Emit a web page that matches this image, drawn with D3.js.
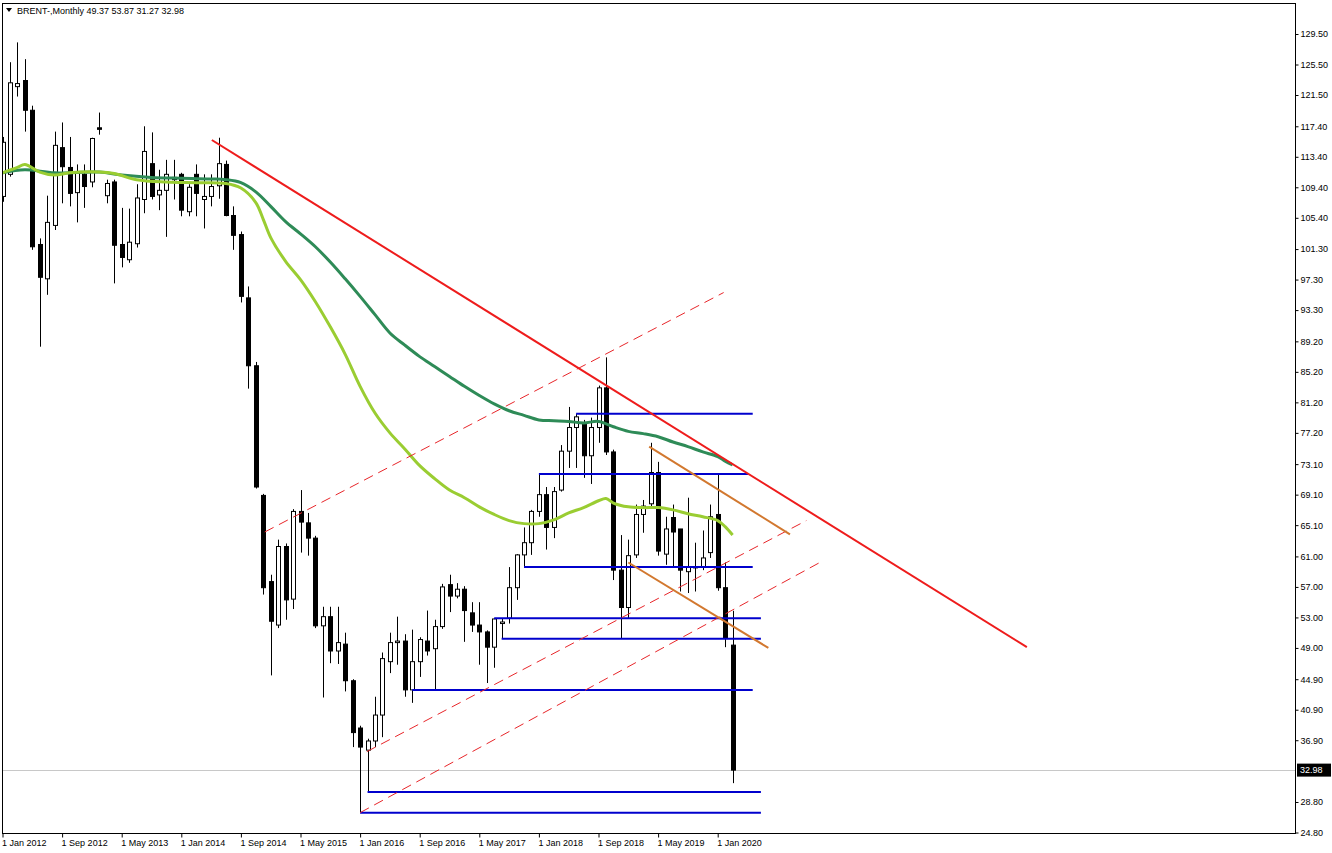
<!DOCTYPE html>
<html><head><meta charset="utf-8">
<script src="https://cdn.jsdelivr.net/npm/d3@7"></script>
<style>
body{margin:0;background:#fff;}
svg{display:block;}
text{font-family:"Liberation Sans",Arial,sans-serif;}
</style>
</head><body>
<svg id="chart" width="1332" height="853"></svg>
<script>
// ---------- DATA (monthly BRENT-, Jan 2012 .. Mar 2020) ----------
const symbolTitle = "BRENT-,Monthly";
const opens  = [108.2,111.1,122.6,123.4,119.5,101.9,97.4,104.4,114.6,112.0,108.7,111.1,
                110.1,117.2,108.3,110.1,101.9,99.9,102.0,107.8,112.5,108.4,109.0,110.7,
                111.1,106.2,111.1,107.8,108.2,109.6,112.4,105.7,103.2,94.9,86.0,69.0,
                57.7,52.0,62.3,55.4,66.9,65.4,63.4,51.9,53.1,48.6,49.5,44.7,
                38.5,35.6,36.8,40.2,47.2,49.7,49.9,43.5,47.2,49.9,48.9,51.8,
                57.3,55.8,56.7,53.6,52.0,51.1,49.1,52.2,52.9,56.9,61.2,62.8,
                66.9,69.1,64.8,69.7,74.8,77.9,78.3,74.2,77.9,83.1,74.7,59.2,
                54.3,61.2,66.5,67.9,72.0,61.3,66.1,64.6,59.0,59.6,59.6,61.5,
                66.5,56.9,49.37];
const highs  = [116.0,125.8,128.4,126.2,120.1,102.7,108.3,116.7,117.9,116.0,112.4,112.4,
                115.9,119.2,110.4,110.4,106.7,106.6,109.8,117.4,116.6,111.7,113.0,113.0,
                111.3,109.8,112.4,111.1,111.1,115.9,112.9,106.9,103.6,96.4,86.5,69.2,
                58.6,63.2,62.7,67.2,69.7,66.7,63.7,54.4,54.4,54.4,51.0,44.9,
                38.8,37.1,42.6,48.4,51.0,53.1,50.8,51.4,50.4,53.9,52.7,57.4,
                58.6,57.5,57.1,55.0,55.0,51.3,52.9,52.9,59.6,61.3,64.8,67.1,
                71.8,70.1,70.1,75.6,80.6,79.7,78.9,79.2,83.4,87.1,75.0,63.8,
                63.2,67.8,68.4,75.9,73.4,66.2,67.8,64.6,68.7,62.8,64.4,67.8,
                71.7,60.2,53.87];
const lows   = [107.5,110.8,121.3,116.7,101.2,88.5,95.3,103.8,107.3,106.9,104.8,106.7,
                109.4,116.3,107.3,96.8,98.9,99.5,101.5,106.0,107.8,106.4,102.9,107.8,
                105.6,105.6,105.6,104.0,106.9,107.9,105.6,101.2,94.3,83.0,69.9,56.0,
                45.4,51.6,52.7,54.1,61.5,61.1,51.6,42.5,47.0,46.9,43.3,36.0,
                27.4,30.1,36.0,37.3,45.7,46.8,42.6,41.8,45.2,48.0,43.6,51.5,
                53.7,55.5,49.8,51.1,46.8,44.4,46.4,50.3,52.2,55.3,59.6,61.2,
                66.2,61.9,63.4,69.5,72.6,72.6,71.3,70.5,75.9,74.3,57.9,50.3,
                52.9,60.8,64.1,67.6,61.1,59.9,59.6,56.4,56.2,56.4,59.2,60.8,
                56.5,49.1,31.27];
const closes = [115.3,123.1,123.0,119.5,101.6,97.6,104.8,114.9,112.1,108.6,111.3,109.5,
                115.8,117.0,109.9,101.8,100.2,102.2,108.0,114.1,108.2,109.0,111.1,110.4,
                106.4,109.4,108.6,108.2,109.5,112.5,105.7,103.1,95.1,86.0,70.1,56.9,
                52.5,62.3,55.3,66.9,65.5,63.4,51.9,53.1,48.6,49.7,44.7,37.9,
                36.0,36.8,40.2,47.6,49.7,49.9,43.5,47.2,50.1,48.6,51.8,57.0,
                55.8,56.7,53.9,52.0,51.1,49.1,52.8,52.4,56.9,61.2,62.8,66.9,
                69.1,64.8,69.5,74.8,77.9,79.3,74.2,77.9,83.1,74.7,59.2,54.3,
                61.1,66.5,67.6,72.0,61.7,64.6,64.2,59.2,59.6,59.5,60.8,66.2,
                56.9,50.3,32.98];

// moving averages (bar index, price)
const maSlowIdx = [0,3,7,13,16,20,24,28,30,32,34,36,38,40,42,44,46,48,50,52,54,56,58,60,62,64,66,68,70,72,74,76,78,80,82,84,86,88,90,92,94,96,97,98];
const maSlowVal = [111.3,111.7,111.3,111.4,111.0,110.7,110.6,110.5,110.4,110.0,108.8,106.9,104.9,103.3,101.6,99.6,97.4,95.1,92.7,90.3,88.7,87.2,85.9,84.6,83.3,82.1,81.0,80.1,79.5,78.9,78.8,78.7,78.5,78.7,78.0,77.4,77.1,76.7,76.0,75.4,74.7,74.1,73.5,73.0];
const maFastIdx = [0,2,3,5,7,9,13,15,18,22,26,30,32,34,35,36,38,40,42,44,46,48,50,52,54,56,58,60,62,64,66,68,70,72,74,76,78,80,81,82,84,86,88,90,92,94,96,97,98];
const maFastVal = [111.3,112.0,112.4,111.4,111.0,111.3,111.4,111.2,110.4,110.1,110.0,109.9,109.3,107.4,105.2,102.8,99.7,97.3,94.4,91.1,87.5,83.3,79.8,77.2,75.1,72.9,71.2,69.7,68.7,67.5,66.5,65.7,65.3,65.3,65.8,66.7,67.4,68.3,68.6,68.0,67.5,67.4,67.4,67.1,66.6,66.2,65.7,64.9,63.8];

// drawn objects: [startIdx, startPrice, endIdx, endPrice]
const redTrend     = [[28.1,115.6,137.5,49.1]];
const redDashed    = [[35.2,64.2,96.8,95.6],[48.9,35.4,107.9,65.7],[48.0,27.4,109.7,60.2]];
const orangeTrend  = [[86.8,75.4,105.7,63.9],[84.0,60.2,102.8,49.0]];
// horizontal levels: [price, startIdx, endIdx]
const blueLevels   = [[79.7,77,100.7],[71.8,72,100.1],[59.6,70,100.7],[52.9,66,101.8],
                      [50.2,67,101.8],[43.5,55,100.7],[30.1,49,101.8],[27.4,48,101.8]];

const xTickIdx    = [0,8,16,24,32,40,48,56,64,72,80,88,96];
const xTickLabels = ["1 Jan 2012","1 Sep 2012","1 May 2013","1 Jan 2014","1 Sep 2014","1 May 2015",
                     "1 Jan 2016","1 Sep 2016","1 May 2017","1 Jan 2018","1 Sep 2018","1 May 2019","1 Jan 2020"];
const yTicks = [129.5,125.5,121.5,117.4,113.4,109.4,105.4,101.3,97.3,93.3,89.2,85.2,81.2,77.2,
                73.1,69.1,65.1,61.0,57.0,53.0,49.0,44.9,40.9,36.9,28.8,24.8];

// ---------- LAYOUT ----------
const plotL = 2, plotT = 3, plotR = 1295, plotB = 833;
const svg = d3.select("#chart");
const x = d3.scaleLinear().domain([0, 98]).range([2.5, 2.5 + 98 * 7.45]);
const y = d3.scaleLinear().domain([24.8, 129.5]).range([832.5, 34]);

svg.append("defs").append("clipPath").attr("id","plotClip")
  .append("rect").attr("x",plotL).attr("y",plotT).attr("width",plotR-plotL).attr("height",plotB-plotT);

const plot = svg.append("g").attr("clip-path","url(#plotClip)");

// bid line
const last = closes[closes.length-1];
plot.append("line").attr("x1",plotL).attr("x2",plotR)
  .attr("y1",Math.round(y(last))+0.5).attr("y2",Math.round(y(last))+0.5)
  .attr("stroke","#c8c8c8").attr("stroke-width",1);

// candles
const bars = d3.range(opens.length).map(i => ({i, o:opens[i], h:highs[i], l:lows[i], c:closes[i]}));
const bw = 5;
const cg = plot.append("g");
cg.selectAll("line.wick").data(bars).join("line").attr("class","wick")
  .attr("x1",d=>Math.round(x(d.i))+0.5).attr("x2",d=>Math.round(x(d.i))+0.5)
  .attr("y1",d=>y(d.h)).attr("y2",d=>y(d.l))
  .attr("stroke","#000").attr("stroke-width",1);
cg.selectAll("rect.body").data(bars).join("rect").attr("class","body")
  .attr("x",d=>Math.round(x(d.i))-2+0.5)
  .attr("width",bw-1)
  .attr("y",d=>y(Math.max(d.o,d.c)))
  .attr("height",d=>Math.max(0.8, Math.abs(y(d.o)-y(d.c))))
  .attr("fill",d=>d.c>=d.o ? "#fff" : "#000")
  .attr("stroke","#000").attr("stroke-width",1);

// moving averages
const maLine = d3.line().x(d=>x(d[0])).y(d=>y(d[1])).curve(d3.curveCatmullRom.alpha(0.5));
plot.append("path").datum(maSlowIdx.map((v,k)=>[v,maSlowVal[k]]))
  .attr("d",maLine).attr("fill","none").attr("stroke","#2e8b57").attr("stroke-width",3).attr("stroke-linejoin","round");
plot.append("path").datum(maFastIdx.map((v,k)=>[v,maFastVal[k]]))
  .attr("d",maLine).attr("fill","none").attr("stroke","#9acd32").attr("stroke-width",3).attr("stroke-linejoin","round");

// objects
plot.selectAll("line.level").data(blueLevels).join("line").attr("class","level")
  .attr("x1",d=>x(d[1])).attr("x2",d=>x(d[2]))
  .attr("y1",d=>y(d[0])).attr("y2",d=>y(d[0]))
  .attr("stroke","#0000cd").attr("stroke-width",2);
plot.selectAll("line.rdash").data(redDashed).join("line").attr("class","rdash")
  .attr("x1",d=>x(d[0])).attr("y1",d=>y(d[1])).attr("x2",d=>x(d[2])).attr("y2",d=>y(d[3]))
  .attr("stroke","#e8262a").attr("stroke-width",1).attr("stroke-dasharray","10,6");
plot.selectAll("line.orange").data(orangeTrend).join("line").attr("class","orange")
  .attr("x1",d=>x(d[0])).attr("y1",d=>y(d[1])).attr("x2",d=>x(d[2])).attr("y2",d=>y(d[3]))
  .attr("stroke","#d2782f").attr("stroke-width",2);
plot.selectAll("line.red").data(redTrend).join("line").attr("class","red")
  .attr("x1",d=>x(d[0])).attr("y1",d=>y(d[1])).attr("x2",d=>x(d[2])).attr("y2",d=>y(d[3]))
  .attr("stroke","#ee1c1c").attr("stroke-width",2);

// frame
svg.append("rect").attr("x",plotL+0.5).attr("y",plotT+0.5)
  .attr("width",plotR-plotL).attr("height",plotB-plotT)
  .attr("fill","none").attr("stroke","#000").attr("stroke-width",1);

// right axis
const yAxis = svg.append("g").attr("transform",`translate(${plotR+0.5},0)`)
  .call(d3.axisRight(y).tickValues(yTicks).tickFormat(d3.format(".2f")).tickSize(3).tickPadding(2));
yAxis.select(".domain").remove();
yAxis.selectAll("text").attr("font-size","9px").attr("fill","#000").style("font-family","'Liberation Sans',Arial,sans-serif");
yAxis.selectAll("line").attr("stroke","#000");

// bottom axis
const xAxis = svg.append("g").attr("transform",`translate(0,${plotB+0.5})`)
  .call(d3.axisBottom(x).tickValues(xTickIdx).tickFormat((d,k)=>xTickLabels[k]).tickSize(4).tickPadding(2));
xAxis.select(".domain").remove();
xAxis.selectAll("text").attr("text-anchor","start").attr("dx","-1").attr("font-size","9px").attr("fill","#000")
  .style("font-family","'Liberation Sans',Arial,sans-serif");
xAxis.selectAll("line").attr("stroke","#000");

// last price label
const ly = y(last);
svg.append("rect").attr("x",plotR+2).attr("y",ly-6.5).attr("width",34).attr("height",13).attr("fill","#000");
svg.append("text").attr("x",plotR+5).attr("y",ly).attr("dy","0.35em")
  .attr("font-size","9px").attr("fill","#fff").text(d3.format(".2f")(last));

// header
svg.append("path").attr("d","M6,8 L12,8 L9,12 Z").attr("fill","#000");
svg.append("text").attr("x",17).attr("y",11).attr("dy","0.35em").attr("font-size","9px").attr("fill","#000")
  .text(`${symbolTitle}  ${[opens,highs,lows,closes].map(a=>d3.format(".2f")(a[a.length-1])).join(" ")}`);
</script>
</body></html>
